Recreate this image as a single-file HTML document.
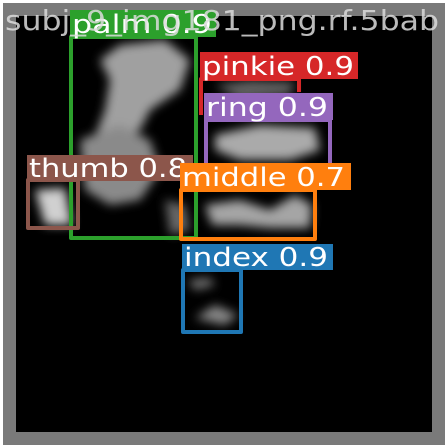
<!DOCTYPE html>
<html><head><meta charset="utf-8"><style>
html,body{margin:0;padding:0;background:#fff;width:448px;height:448px;overflow:hidden}
svg{display:block}
text{font-family:"DejaVu Sans","Liberation Sans",sans-serif}
</style></head><body>
<svg width="448" height="448" viewBox="0 0 448 448">
<defs><filter id="bl" x="-20%" y="-20%" width="140%" height="140%"><feGaussianBlur stdDeviation="5"/></filter></defs>
<rect x="3" y="3" width="442" height="442" fill="#7a7a7a"/>
<rect x="16" y="16" width="416" height="416" fill="#000"/>
<g filter="url(#bl)" fill="#a0a0a0">
<polygon points="120,45 165,40 190,60 180,90 150,110 140,130 120,140 100,160 90,150 105,110 110,80 100,60"/>
<polygon points="80,140 120,125 150,140 160,170 140,200 110,205 85,190" fill="#8a8a8a"/>
<polygon points="35,190 65,188 72,225 45,225" fill="#d0d0d0"/>
<polygon points="215,135 260,125 315,128 320,150 290,160 240,160 215,150" fill="#aaaaaa"/>
<polygon points="215,85 250,80 295,82 290,95 240,100" fill="#606060"/>
<polygon points="205,205 240,200 270,210 295,195 312,205 310,228 270,228 240,225 212,225" fill="#a5a5a5"/>
<polygon points="165,200 185,205 190,230 170,235" fill="#666"/>
<polygon points="188,280 210,278 215,285 195,290" fill="#777"/>
<polygon points="195,318 215,305 238,315 225,325" fill="#888"/>
</g>
<g fill="none" stroke-width="4" stroke-linejoin="round">
<rect x="71" y="37" width="125" height="201" stroke="#2ca02c"/>
<polyline points="201,115 201,79 299,79 299,92" stroke="#d62728"/>
<rect x="206" y="120" width="124" height="46" stroke="#9467bd"/>
<rect x="28" y="180" width="50" height="48" stroke="#8c564b"/>
<rect x="181" y="190" width="134" height="49" stroke="#ff7f0e"/>
<rect x="183" y="270" width="58" height="62" stroke="#1f77b4"/>
</g>
<g font-size="26" fill="#fff" xml:space="preserve">
<rect x="70" y="10" width="146" height="27" fill="#2ca02c"/>
<text x="72" y="33" textLength="140" lengthAdjust="spacingAndGlyphs">palm  0.9</text>
<rect x="200" y="52" width="158" height="27" fill="#d62728"/>
<text x="202" y="75" textLength="152" lengthAdjust="spacingAndGlyphs">pinkie  0.9</text>
<rect x="204" y="93" width="129" height="27" fill="#9467bd"/>
<text x="206" y="116" textLength="122" lengthAdjust="spacingAndGlyphs">ring  0.9</text>
<rect x="27" y="155" width="166" height="26" fill="#8c564b"/>
<text x="29" y="177" textLength="158" lengthAdjust="spacingAndGlyphs">thumb  0.8</text>
<rect x="180" y="163" width="171" height="27" fill="#ff7f0e"/>
<text x="182" y="186" textLength="163" lengthAdjust="spacingAndGlyphs">middle  0.7</text>
<rect x="182" y="244" width="151" height="26" fill="#1f77b4"/>
<text x="184" y="266" textLength="144" lengthAdjust="spacingAndGlyphs">index  0.9</text>
</g>
<text x="5" y="30" font-size="28" fill="#dcdcdc" fill-opacity="0.85" textLength="434" lengthAdjust="spacingAndGlyphs">subj_9_img181_png.rf.5bab</text>
</svg>
</body></html>
